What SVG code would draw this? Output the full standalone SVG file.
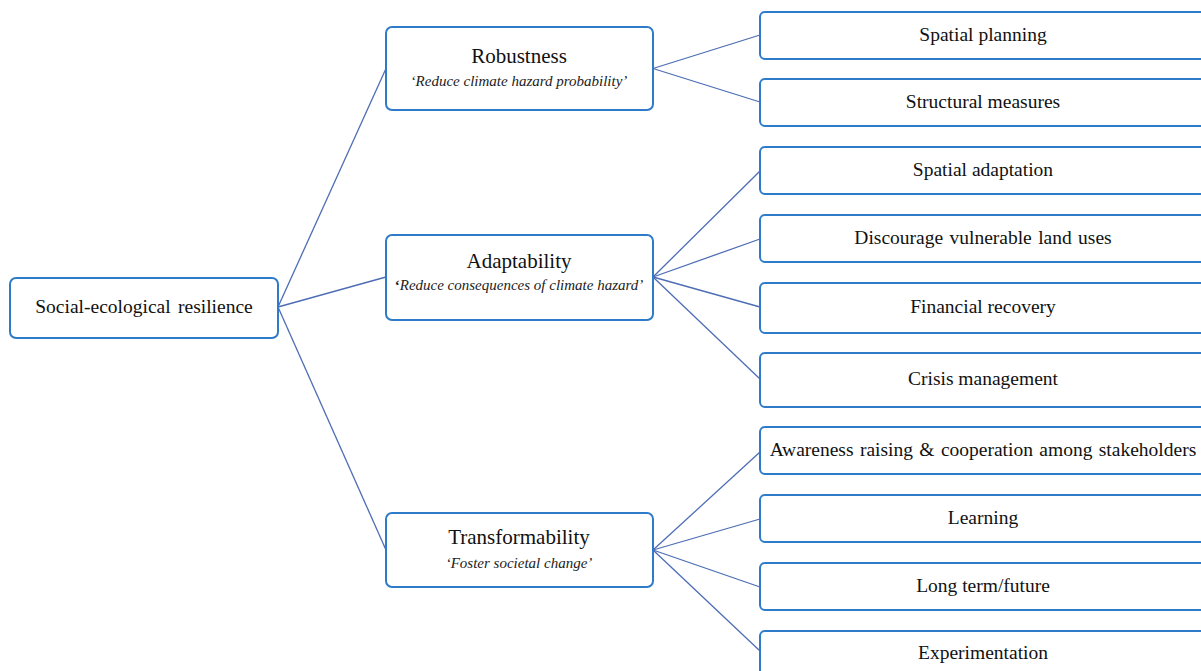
<svg xmlns="http://www.w3.org/2000/svg" width="1201" height="671" viewBox="0 0 1201 671">
<style>
.box{fill:#fff;stroke:#2E7BC9;stroke-width:2}
.ln{stroke:#4D6DB5;stroke-width:1.3;fill:none}
.t{font-family:"Liberation Serif","Times New Roman",serif;font-size:19.5px;fill:#111;text-anchor:middle}
.h{font-family:"Liberation Serif","Times New Roman",serif;font-size:21px;fill:#111;text-anchor:middle}
.s{font-family:"Liberation Serif","Times New Roman",serif;font-size:15px;font-style:italic;fill:#222;text-anchor:middle}
</style>
<rect width="1201" height="671" fill="#fff"/>
<g id="connectors">
<line class="ln" x1="278" y1="307" x2="386" y2="68.5"/>
<line class="ln" x1="278" y1="307" x2="386" y2="277"/>
<line class="ln" x1="278" y1="307" x2="386" y2="550"/>
<line class="ln" x1="653" y1="68.5" x2="760" y2="35"/>
<line class="ln" x1="653" y1="68.5" x2="760" y2="102"/>
<line class="ln" x1="653" y1="277" x2="760" y2="171"/>
<line class="ln" x1="653" y1="277" x2="760" y2="239"/>
<line class="ln" x1="653" y1="277" x2="760" y2="307"/>
<line class="ln" x1="653" y1="277" x2="760" y2="379"/>
<line class="ln" x1="653" y1="550" x2="760" y2="452"/>
<line class="ln" x1="653" y1="550" x2="760" y2="519"/>
<line class="ln" x1="653" y1="550" x2="760" y2="587"/>
<line class="ln" x1="653" y1="550" x2="760" y2="651"/>
</g>
<g id="root"><rect class="box" x="10" y="278" width="268" height="60" rx="6"/><text class="t" x="144" y="313" word-spacing="2.5">Social-ecological resilience</text></g>
<g id="robustness"><rect class="box" x="386" y="27" width="267" height="83" rx="6"/><text class="h" x="519" y="63">Robustness</text><text class="s" x="519" y="86">‘Reduce climate hazard probability’</text></g>
<g id="adaptability"><rect class="box" x="386" y="235" width="267" height="85" rx="6"/><text class="h" x="519" y="268">Adaptability</text><text class="s" x="519" y="290"><tspan font-style="normal" font-weight="bold">‘</tspan>Reduce consequences of climate hazard’</text></g>
<g id="transformability"><rect class="box" x="386" y="513" width="267" height="74" rx="6"/><text class="h" x="519" y="544">Transformability</text><text class="s" x="519" y="568">‘Foster societal change’</text></g>
<g id="spatial-planning"><rect class="box" x="760" y="12" width="450" height="47" rx="5"/><text class="t" x="983" y="41">Spatial planning</text></g>
<g id="structural-measures"><rect class="box" x="760" y="79" width="450" height="47" rx="5"/><text class="t" x="983" y="108">Structural measures</text></g>
<g id="spatial-adaptation"><rect class="box" x="760" y="147" width="450" height="47" rx="5"/><text class="t" x="983" y="176">Spatial adaptation</text></g>
<g id="discourage"><rect class="box" x="760" y="215" width="450" height="47" rx="5"/><text class="t" x="983" y="244" word-spacing="1.5">Discourage vulnerable land uses</text></g>
<g id="financial-recovery"><rect class="box" x="760" y="283" width="450" height="50" rx="5"/><text class="t" x="983" y="313">Financial recovery</text></g>
<g id="crisis-management"><rect class="box" x="760" y="353" width="450" height="54" rx="5"/><text class="t" x="983" y="385">Crisis management</text></g>
<g id="awareness"><rect class="box" x="760" y="427" width="450" height="47" rx="5"/><text class="t" x="983" y="456" word-spacing="1.5">Awareness raising &amp; cooperation among stakeholders</text></g>
<g id="learning"><rect class="box" x="760" y="495" width="450" height="47" rx="5"/><text class="t" x="983" y="524">Learning</text></g>
<g id="long-term"><rect class="box" x="760" y="563" width="450" height="47" rx="5"/><text class="t" x="983" y="592">Long term/future</text></g>
<g id="experimentation"><rect class="box" x="760" y="631" width="450" height="50" rx="5"/><text class="t" x="983" y="659">Experimentation</text></g>
</svg>
